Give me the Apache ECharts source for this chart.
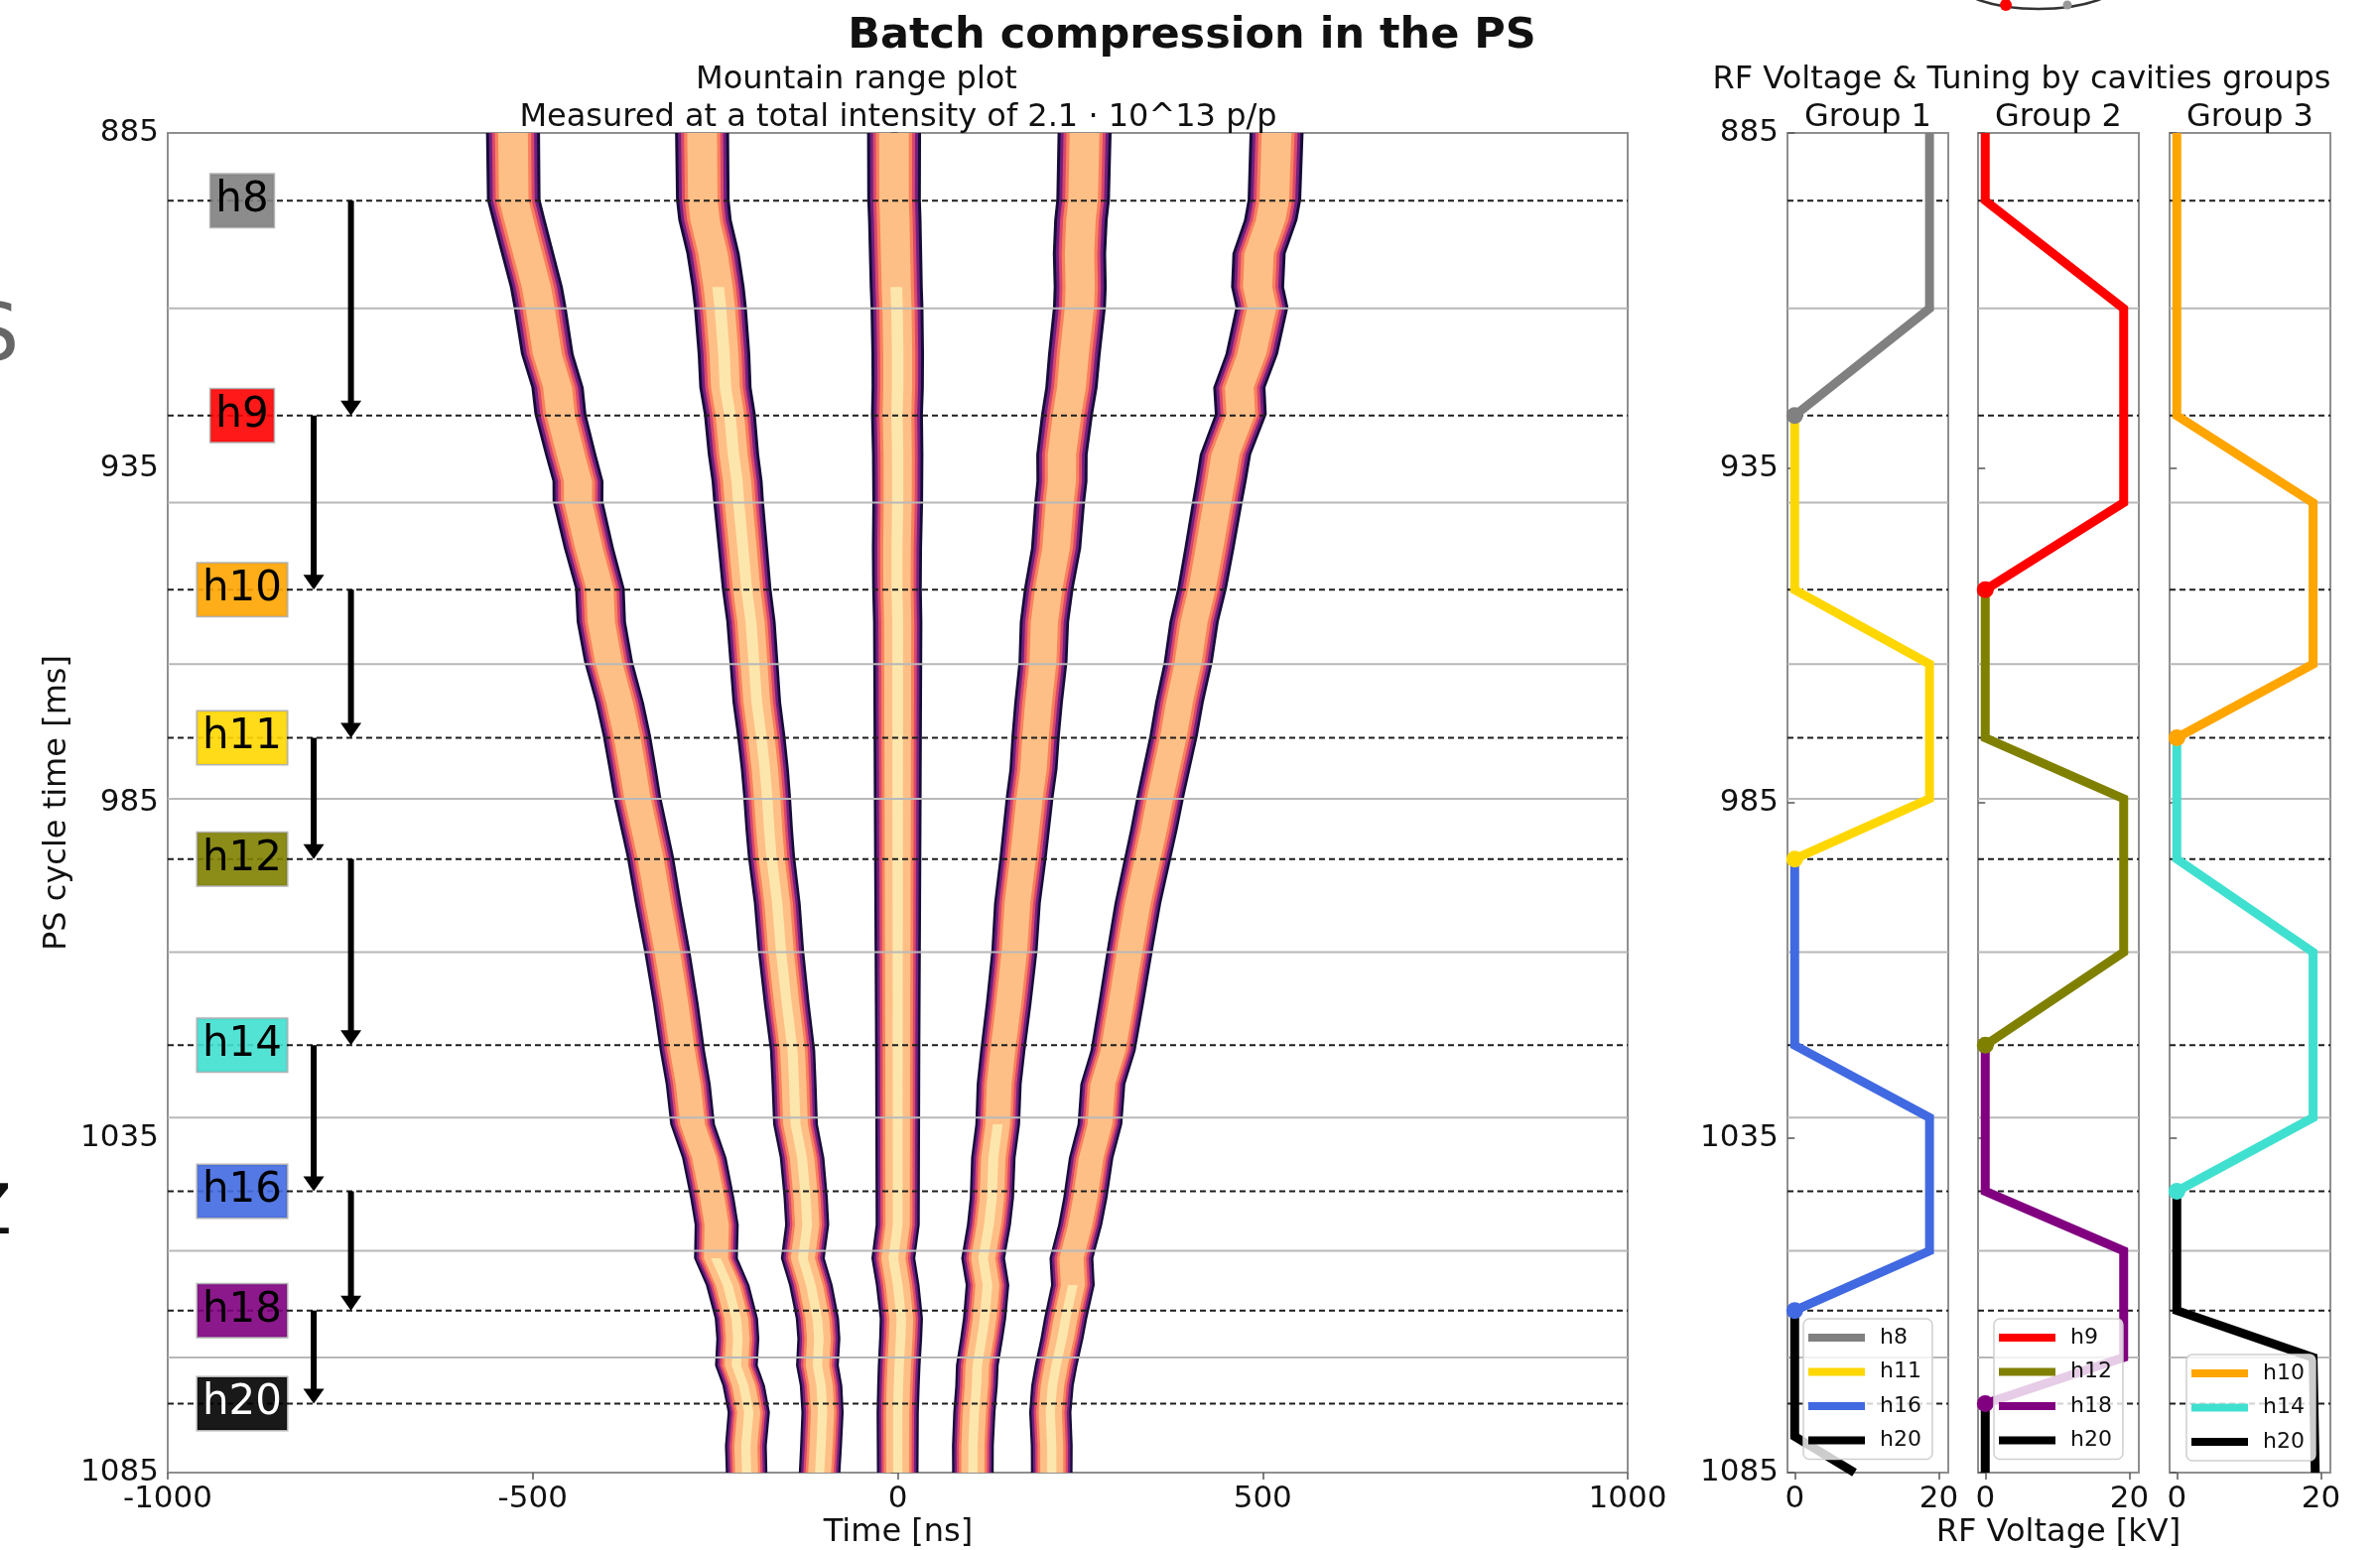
<!DOCTYPE html>
<html>
<head>
<meta charset="utf-8">
<script src="https://cdn.jsdelivr.net/npm/echarts@6/dist/echarts.min.js"></script>
<style>html,body{margin:0;padding:0;background:#fff}#c{width:2398px;height:1562px}</style>
</head>
<body>
<div id="c"></div>
<script>
// ---------- DATA ----------
// Mountain range plot: bunch centre (ns) for each sampled cycle time (ms)
const times = [885, 895, 898, 903, 908, 911, 918, 923, 927, 933, 937, 940, 947, 953, 958, 964, 970, 975, 980, 984,
               989, 993, 1000, 1007, 1015, 1022, 1027, 1033, 1038, 1044, 1048, 1053, 1057, 1062, 1065, 1069, 1072, 1076, 1081, 1085];
const bunch1 = [-527, -526, -519, -507, -495, -490, -480, -466, -462, -448, -438, -438, -423, -408, -406, -396, -381, -371, -363, -357,
                -347, -339, -328, -316, -304, -295, -287, -281, -265, -254, -248, -249, -233, -221, -219, -221, -211, -204, -208, -207];
const bunch2 = [-268, -267, -264, -253, -246, -243, -238, -236, -230, -225, -220, -218, -212, -207, -201, -197, -193, -187, -182, -179,
                -176, -173, -165, -160, -152, -144, -142, -140, -131, -126, -124, -130, -119, -110, -108, -110, -105, -103, -105, -107];
const bunch3 = [-5, -5, -4, -3, -2, -1, 0, 0, -1, 0, 0, 0, -1, -1, 0, 0, 0, 0, 0, 0,
                0, 0, 0, 0, 0, 0, 0, 0, 0, 0, 0, -6, 0, 5, 4, 2, 1, 0, 0, 0];
const bunch4 = [256, 254, 251, 249, 250, 249, 242, 238, 232, 225, 225, 222, 217, 207, 201, 199, 193, 189, 186, 181,
                176, 172, 164, 160, 152, 144, 139, 137, 131, 129, 125, 117, 123, 119, 115, 109, 108, 105, 103, 103];
const bunch5 = [519, 516, 511, 495, 493, 499, 485, 468, 470, 449, 443, 438, 427, 417, 406, 398, 386, 378, 368, 360,
                351, 343, 329, 318, 306, 295, 281, 277, 265, 257, 250, 238, 240, 230, 225, 217, 212, 209, 211, 211];
// full bunch length (ns) read at a few times
const lengthTimes = [885, 920, 953, 990, 1022, 1055, 1085];
const lengthNs = [74, 72, 68, 65, 62, 60, 57];
// time from which the dense (light) core is visible, per bunch
const coreStart = [1050, 905, 905, 1030, 1055];

// Harmonic changes
const harmonicLabels = ['h8', 'h9', 'h10', 'h11', 'h12', 'h14', 'h16', 'h18', 'h20'];
const harmonicTimes = [895.1, 927.2, 953.2, 975.3, 993.4, 1021.2, 1043.0, 1060.8, 1074.7];
const harmonicColors = ['#808080', '#ff0000', '#ffa500', '#ffd700', '#808000', '#40e0d0', '#4169e1', '#800080', '#000000'];
const rampTimes = [911.2, 940.2, 964.3, 984.4, 1007.3, 1032.0, 1051.9, 1067.8];
const labelX = -898;
const arrowX = [-749, -800, -749, -800, -749, -800, -749, -800];

// RF voltage [kV] vs cycle time [ms] per cavity group
const g1_h8  = [[18.7, 885], [18.7, 911.2], [0, 927.2]];
const g1_h11 = [[0, 927.2], [0, 953.2], [18.7, 964.3], [18.7, 984.4], [0, 993.4]];
const g1_h16 = [[0, 993.4], [0, 1021.2], [18.7, 1032.0], [18.7, 1051.9], [0, 1060.8]];
const g1_h20 = [[0, 1060.8], [0, 1079.6], [8.3, 1085]];
const g2_h9  = [[0, 885], [0, 895.1], [19.2, 911.2], [19.2, 940.2], [0, 953.2]];
const g2_h12 = [[0, 953.2], [0, 975.3], [19.2, 984.4], [19.2, 1007.3], [0, 1021.2]];
const g2_h18 = [[0, 1021.2], [0, 1043.0], [19.2, 1051.9], [19.2, 1067.8], [0, 1074.7]];
const g2_h20 = [[0, 1074.7], [0, 1085]];
const g3_h10 = [[0, 885], [0, 927.2], [18.9, 940.2], [18.9, 964.3], [0, 975.3]];
const g3_h14 = [[0, 975.3], [0, 993.4], [18.9, 1007.3], [18.9, 1032.0], [0, 1043.0]];
const g3_h20 = [[0, 1043.0], [0, 1060.8], [18.9, 1067.8], [19.2, 1085]];

const timeTicks = [885, 935, 985, 1035, 1085];
const voltTicks = [0, 20];

// ---------- CHART ----------
const FONT = '"DejaVu Sans", "Liberation Sans", sans-serif';
const bunches = [bunch1, bunch2, bunch3, bunch4, bunch5];

function lengthAt(t) {
  for (let k = 0; k < lengthTimes.length - 1; k++) {
    if (t <= lengthTimes[k + 1]) {
      const a = (t - lengthTimes[k]) / (lengthTimes[k + 1] - lengthTimes[k]);
      return lengthNs[k] + a * (lengthNs[k + 1] - lengthNs[k]);
    }
  }
  return lengthNs[lengthNs.length - 1];
}

function bandSeries(frac, color, core, opacity) {
  return {
    type: 'custom', xAxisIndex: 0, yAxisIndex: 0, z: 2, silent: true, clip: true,
    data: bunches.map((b, i) => [b[0], times[0], i]),
    encode: { x: 0, y: 1 },
    renderItem(params, api) {
      const i = api.value(2);
      const b = bunches[i];
      const startT = core ? coreStart[i] : -Infinity;
      const left = [], right = [];
      for (let k = 0; k < times.length; k++) {
        if (times[k] < startT) continue;
        const hw = lengthAt(times[k]) * frac / 2;
        left.push(api.coord([b[k] - hw, times[k]]));
        right.push(api.coord([b[k] + hw, times[k]]));
      }
      if (left.length < 2) return null;
      return { type: 'polygon', shape: { points: left.concat(right.reverse()) },
               style: { fill: color, opacity: opacity == null ? 1 : opacity } };
    }
  };
}

function hLineSeries(gi, values, style, z) {
  return {
    type: 'custom', xAxisIndex: gi, yAxisIndex: gi, z: z, silent: true,
    data: values.map(v => [0, v]),
    encode: { x: 0, y: 1 },
    renderItem(params, api) {
      const y = api.coord([0, api.value(1)])[1];
      const cs = params.coordSys;
      return { type: 'line', shape: { x1: cs.x, y1: y, x2: cs.x + cs.width, y2: y }, style: Object.assign({}, style) };
    }
  };
}

function vSeries(name, gi, data, color, endMarker) {
  return {
    type: 'line', name: name, xAxisIndex: gi, yAxisIndex: gi, z: 3, silent: true,
    symbol: 'none', showSymbol: true, clip: true,
    emphasis: { disabled: true },
    lineStyle: { color: color, width: 9, cap: 'butt', join: 'miter' },
    itemStyle: { color: color },
    data: data.map((p, k) => (endMarker && k === data.length - 1)
      ? { value: p, symbol: 'circle', symbolSize: 17 }
      : { value: p, symbol: 'none' })
  };
}

function rgba(hex, a) {
  const n = parseInt(hex.slice(1), 16);
  return 'rgba(' + ((n >> 16) & 255) + ',' + ((n >> 8) & 255) + ',' + (n & 255) + ',' + a + ')';
}

const dashStyle = { stroke: '#1e1e1e', lineWidth: 2, lineDash: [6, 4] };
const grayStyle = { stroke: '#b8b8b8', lineWidth: 2 };

const GRID_TOP = 134, GRID_H = 1350;
const spine = { show: true, borderColor: '#8f8f8f', borderWidth: 2, backgroundColor: 'transparent' };
const grids = [
  Object.assign({ left: 169, top: GRID_TOP, width: 1471, height: GRID_H }, spine),
  Object.assign({ left: 1801, top: GRID_TOP, width: 162, height: GRID_H }, spine),
  Object.assign({ left: 1993, top: GRID_TOP, width: 162, height: GRID_H }, spine),
  Object.assign({ left: 2186, top: GRID_TOP, width: 162, height: GRID_H }, spine)
];

const tickStyle = { show: true, inside: false, length: 7, lineStyle: { color: '#555', width: 1.5 } };
const plain = v => String(v);
const labelStyle = { fontSize: 31, fontFamily: FONT, color: '#111', formatter: plain };

const xAxes = [
  { gridIndex: 0, type: 'value', min: -1000, max: 1000, interval: 500,
    axisLine: { show: false }, splitLine: { show: false }, axisTick: tickStyle,
    axisLabel: Object.assign({ margin: 11, showMinLabel: true, showMaxLabel: true }, labelStyle) }
];
for (let g = 1; g <= 3; g++) {
  xAxes.push({ gridIndex: g, type: 'value', min: -1, max: 21.3,
    axisLine: { show: false }, splitLine: { show: false },
    axisTick: Object.assign({ customValues: voltTicks }, tickStyle),
    axisLabel: Object.assign({ margin: 11, customValues: voltTicks }, labelStyle) });
}
const yAxes = [];
for (let g = 0; g <= 3; g++) {
  yAxes.push({ gridIndex: g, type: 'value', min: 885, max: 1085, interval: 50, inverse: true,
    axisLine: { show: false }, splitLine: { show: false },
    axisTick: Object.assign({ customValues: timeTicks }, tickStyle),
    axisLabel: Object.assign({ margin: 9, show: g <= 1, customValues: timeTicks, showMinLabel: true, showMaxLabel: true }, labelStyle) });
}

const series = [
  bandSeries(1.00, '#160c38'),
  bandSeries(0.89, '#721f81'),
  bandSeries(0.78, '#d8466c'),
  bandSeries(0.67, '#f9815e'),
  bandSeries(0.55, '#febf86'),
  bandSeries(0.22, '#fcf3b8', true, 0.75),
  hLineSeries(0, rampTimes, grayStyle, 4),
  hLineSeries(0, harmonicTimes, dashStyle, 4),
  // arrows
  {
    type: 'custom', xAxisIndex: 0, yAxisIndex: 0, z: 6, silent: true,
    data: arrowX.map((x, k) => [x, harmonicTimes[k], harmonicTimes[k + 1]]),
    encode: { x: 0, y: 1 },
    renderItem(params, api) {
      const p0 = api.coord([api.value(0), api.value(1)]);
      const p1 = api.coord([api.value(0), api.value(2)]);
      const head = 15, hw = 10.5;
      return { type: 'group', children: [
        { type: 'line', shape: { x1: p0[0], y1: p0[1], x2: p1[0], y2: p1[1] - head + 1 }, style: { stroke: '#000', lineWidth: 6 } },
        { type: 'polygon', shape: { points: [[p1[0] - hw, p1[1] - head], [p1[0] + hw, p1[1] - head], [p1[0], p1[1]]] }, style: { fill: '#000' } }
      ] };
    }
  },
  // harmonic label boxes
  {
    type: 'custom', xAxisIndex: 0, yAxisIndex: 0, z: 7, silent: true,
    data: harmonicTimes.map((t, k) => [labelX, t, k]),
    encode: { x: 0, y: 1 },
    renderItem(params, api) {
      const p = api.coord([api.value(0), api.value(1)]);
      const k = api.value(2);
      return { type: 'text', x: p[0], y: p[1], style: {
        text: harmonicLabels[k], font: '42px ' + FONT,
        fill: k === 8 ? '#ffffff' : '#000000',
        align: 'center', verticalAlign: 'middle', textAlign: 'center', textVerticalAlign: 'middle',
        backgroundColor: rgba(harmonicColors[k], 0.9), padding: [3, 5, 3, 5], lineHeight: 47,
        borderColor: 'rgba(0,0,0,0.3)', borderWidth: 1.5 } };
    }
  }
];
for (let g = 1; g <= 3; g++) {
  series.push(hLineSeries(g, rampTimes, grayStyle, 1));
  series.push(hLineSeries(g, harmonicTimes, dashStyle, 1));
}
series.push(
  vSeries('h8', 1, g1_h8, '#808080', true),
  vSeries('h11', 1, g1_h11, '#ffd700', true),
  vSeries('h16', 1, g1_h16, '#4169e1', true),
  vSeries('h20', 1, g1_h20, '#000000', false),
  vSeries('h9', 2, g2_h9, '#ff0000', true),
  vSeries('h12', 2, g2_h12, '#808000', true),
  vSeries('h18', 2, g2_h18, '#800080', true),
  vSeries('h20', 2, g2_h20, '#000000', false),
  vSeries('h10', 3, g3_h10, '#ffa500', true),
  vSeries('h14', 3, g3_h14, '#40e0d0', true),
  vSeries('h20', 3, g3_h20, '#000000', false)
);

const legendCommon = {
  orient: 'vertical', icon: 'rect', itemWidth: 57, itemHeight: 8, itemGap: 8.5,
  padding: [6, 11, 6, 5], backgroundColor: 'rgba(255,255,255,0.8)',
  borderColor: '#cfcfcf', borderWidth: 1.5, borderRadius: 6, selectedMode: false, z: 10,
  textStyle: { fontSize: 22, fontFamily: FONT, color: '#111', lineHeight: 26, padding: [0, 0, 0, 10] }
};
const legends = [
  Object.assign({ data: ['h8', 'h11', 'h16', 'h20'], left: 1817, top: 1329 }, legendCommon),
  Object.assign({ data: ['h9', 'h12', 'h18', 'h20'], left: 2009, top: 1329 }, legendCommon),
  Object.assign({ data: ['h10', 'h14', 'h20'], left: 2203, top: 1365 }, legendCommon)
];

function txt(text, x, y, size, opts) {
  opts = opts || {};
  return { type: 'text', x: x, y: y, rotation: opts.rotation || 0, z: 20, silent: true,
    style: { text: text, font: (opts.bold ? 'bold ' : '') + size + 'px ' + FONT, fill: opts.color || '#111',
      align: opts.align || 'center', verticalAlign: 'middle', textAlign: opts.align || 'center', textVerticalAlign: 'middle' } };
}

const graphics = [
  txt('Batch compression in the PS', 1201, 37, 43, { bold: true }),
  txt('Mountain range plot', 863, 81, 32),
  txt('Measured at a total intensity of 2.1 · 10^13 p/p', 905, 119, 32),
  txt('RF Voltage & Tuning by cavities groups', 2037, 81, 32),
  txt('Group 1', 1882, 119, 32),
  txt('Group 2', 2074, 119, 32),
  txt('Group 3', 2267, 119, 32),
  txt('Time [ns]', 905, 1545, 32),
  txt('RF Voltage [kV]', 2074, 1545, 32),
  txt('PS cycle time [ms]', 58, 809, 32, { rotation: Math.PI / 2 }),
  // cropped remnants at the figure edges
  txt('S', -6, 342, 80, { color: '#666' }),
  txt('Z', -12, 1225, 70, { color: '#111' }),
  txt(')', -8, 1486, 62, { color: '#888' }),
  { type: 'ellipse', shape: { cx: 2054, cy: -21, rx: 84, ry: 30 }, style: { fill: 'none', stroke: '#333', lineWidth: 2.5 }, z: 20, silent: true },
  { type: 'circle', shape: { cx: 2021, cy: 5, r: 6 }, style: { fill: '#ff0000' }, z: 21, silent: true },
  { type: 'circle', shape: { cx: 2083, cy: 5, r: 4.5 }, style: { fill: '#999999' }, z: 21, silent: true }
];

const chart = echarts.init(document.getElementById('c'), null, { renderer: 'canvas' });
chart.setOption({
  animation: false,
  backgroundColor: '#ffffff',
  grid: grids,
  xAxis: xAxes,
  yAxis: yAxes,
  legend: legends,
  series: series,
  graphic: graphics
});
</script>
</body>
</html>
